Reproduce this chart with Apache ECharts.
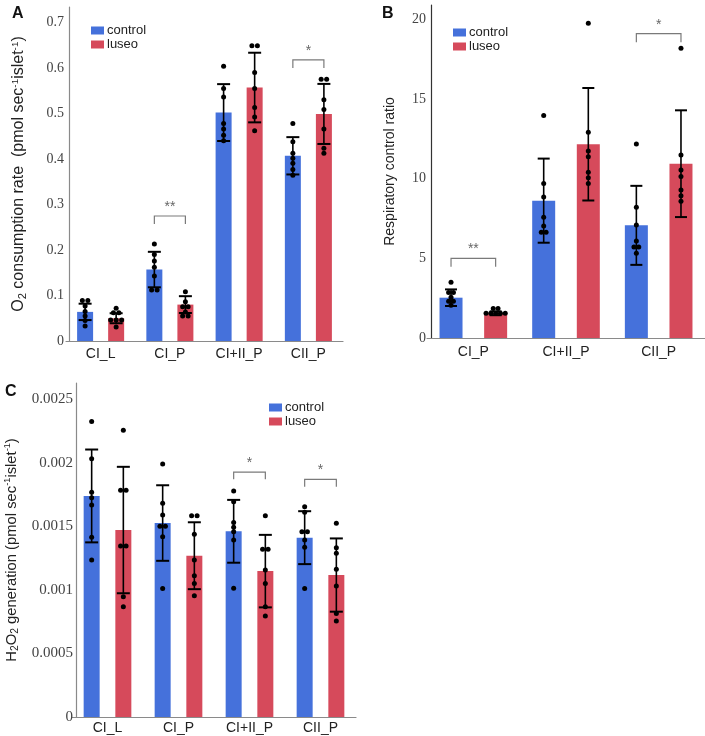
<!DOCTYPE html>
<html>
<head>
<meta charset="utf-8">
<script src="https://cdn.jsdelivr.net/npm/echarts@6/dist/echarts.min.js"></script>
<style>
  html, body { margin: 0; padding: 0; background: #fff; }
  #main { width: 705px; height: 736px; }
</style>
</head>
<body>
<div id="main"></div>
<script>
// ---- data ----
const catsA = ['CI_L', 'CI_P', 'CI+II_P', 'CII_P']
const catsB = ['CI_P', 'CI+II_P', 'CII_P']
const catsC = ['CI_L', 'CI_P', 'CI+II_P', 'CII_P']

// A: O2 consumption rate
const ctrlMeanA = [0.064, 0.157, 0.502, 0.407]
const luseoMeanA = [0.050, 0.080, 0.557, 0.499]
const ctrlSdA = [0.018, 0.039, 0.0625, 0.041]
const luseoSdA = [0.011, 0.0185, 0.0765, 0.066]
const ctrlPtsA = [
  [0.089, 0.089, 0.077, 0.065, 0.055, 0.045, 0.033],
  [0.213, 0.19, 0.176, 0.162, 0.143, 0.112, 0.112],
  [0.604, 0.555, 0.536, 0.478, 0.466, 0.452, 0.440],
  [0.478, 0.438, 0.4125, 0.4015, 0.3905, 0.377, 0.364]
]
const luseoPtsA = [
  [0.072, 0.062, 0.062, 0.046, 0.046, 0.046, 0.031],
  [0.108, 0.086, 0.075, 0.075, 0.064, 0.055, 0.055],
  [0.649, 0.649, 0.590, 0.555, 0.513, 0.492, 0.462],
  [0.575, 0.575, 0.530, 0.509, 0.466, 0.4235, 0.4125]
]
const sigCatsA = [1, 3]
const sigTopA = [0.2747, 0.6176]
const sigMarkA = ['**', '*']

// B: respiratory control ratio
const ctrlMeanB = [2.53, 8.62, 7.07]
const luseoMeanB = [1.55, 12.16, 10.94]
const ctrlSdB = [0.52, 2.64, 2.48]
const luseoSdB = [0.12, 3.53, 3.35]
const ctrlPtsB = [
  [3.5, 2.85, 2.85, 2.55, 2.3, 2.3, 2.05],
  [13.96, 9.69, 8.85, 7.58, 7.03, 6.63, 6.63],
  [12.18, 8.2, 7.09, 6.09, 5.71, 5.71, 5.32]
]
const luseoPtsB = [
  [1.85, 1.85, 1.55, 1.55, 1.55, 1.55, 1.55],
  [19.75, 12.91, 11.74, 11.38, 10.4, 10.06, 9.69],
  [18.18, 11.49, 10.55, 10.13, 9.29, 8.93, 8.58]
]
const sigCatsB = [0, 2]
const sigTopB = [5.0, 19.1]
const sigMarkB = ['**', '*']

// C: H2O2 generation
const ctrlMeanC = [0.001738, 0.001525, 0.00146, 0.00141]
const luseoMeanC = [0.00147, 0.001268, 0.001147, 0.001116]
const ctrlSdC = [0.000365, 0.000297, 0.000247, 0.000208]
const luseoSdC = [0.000497, 0.000263, 0.000285, 0.000288]
const ctrlPtsC = [
  [0.002323, 0.002031, 0.001767, 0.001724, 0.001667, 0.001413, 0.001234],
  [0.00199, 0.00168, 0.001588, 0.001499, 0.001499, 0.001417, 0.001011],
  [0.001777, 0.001693, 0.00153, 0.001491, 0.001457, 0.001391, 0.001013],
  [0.001654, 0.00161, 0.001457, 0.001457, 0.001391, 0.001334, 0.001011]
]
const luseoPtsC = [
  [0.002255, 0.001783, 0.001783, 0.001344, 0.001344, 0.000945, 0.000866],
  [0.001583, 0.001583, 0.001436, 0.001234, 0.00111, 0.00105, 0.000953],
  [0.001583, 0.001318, 0.001318, 0.001155, 0.00105, 0.000866, 0.000795],
  [0.001523, 0.001331, 0.001287, 0.001161, 0.001029, 0.000814, 0.000754]
]
const sigCatsC = [2, 3]
const sigTopC = [0.001926, 0.001868]
const sigMarkC = ['*', '*']

const BLUE = '#4571DB'
const RED = '#D64A5B'

// side-by-side slot for identical values
function slots (vals) {
  return vals.map((v, i) => {
    const same = vals.filter(w => w === v).length
    const k = vals.slice(0, i).filter(w => w === v).length
    return k - (same - 1) / 2
  })
}

function groupShift (grp, barW, gapR) {
  return (grp === 0 ? -1 : 1) * barW * (1 + gapR) / 2
}

function buildPanel (p) {
  const series = []
  const axis = { xAxisIndex: p.idx, yAxisIndex: p.idx }
  series.push(Object.assign({
    type: 'bar', name: 'control', data: p.ctrlMean, barWidth: p.barW, barGap: (p.gapR * 100) + '%',
    itemStyle: { color: BLUE }, silent: true
  }, axis))
  series.push(Object.assign({
    type: 'bar', name: 'luseo', data: p.luseoMean, barWidth: p.barW, barGap: (p.gapR * 100) + '%',
    itemStyle: { color: RED }, silent: true
  }, axis))

  // error bars
  const errData = []
  p.ctrlMean.forEach((m, i) => errData.push([i, m, p.ctrlSd[i], 0]))
  p.luseoMean.forEach((m, i) => errData.push([i, m, p.luseoSd[i], 1]))
  series.push(Object.assign({
    type: 'custom', z: 5, silent: true, data: errData,
    encode: { x: 0, y: 1 },
    renderItem (params, api) {
      const c = api.value(0)
      const m = api.value(1)
      const sd = api.value(2)
      const dx = groupShift(api.value(3), p.barW, p.gapR)
      const hi = api.coord([c, m + sd])
      const lo = api.coord([c, m - sd])
      const x = hi[0] + dx
      const half = p.cap / 2
      const st = { stroke: '#000', lineWidth: 2 }
      return {
        type: 'group',
        children: [
          { type: 'line', shape: { x1: x, y1: hi[1], x2: x, y2: lo[1] }, style: { stroke: '#000', lineWidth: 1.6 } },
          { type: 'line', shape: { x1: x - half, y1: hi[1], x2: x + half, y2: hi[1] }, style: st },
          { type: 'line', shape: { x1: x - half, y1: lo[1], x2: x + half, y2: lo[1] }, style: st }
        ]
      }
    }
  }, axis))

  // individual points
  const dotData = []
  p.ctrlPts.forEach((arr, i) => {
    const s = slots(arr)
    arr.forEach((v, k) => dotData.push([i, v, 0, s[k]]))
  })
  p.luseoPts.forEach((arr, i) => {
    const s = slots(arr)
    arr.forEach((v, k) => dotData.push([i, v, 1, s[k]]))
  })
  series.push(Object.assign({
    type: 'custom', z: 6, silent: true, data: dotData,
    encode: { x: 0, y: 1 },
    renderItem (params, api) {
      const pt = api.coord([api.value(0), api.value(1)])
      const dx = groupShift(api.value(2), p.barW, p.gapR) + api.value(3) * p.spacing
      return { type: 'circle', shape: { cx: pt[0] + dx, cy: pt[1], r: 2.5 }, style: { fill: '#000' } }
    }
  }, axis))

  // significance brackets
  const sigData = p.sigCats.map((c, i) => [c, p.sigTop[i]])
  series.push(Object.assign({
    type: 'custom', z: 4, silent: true, data: sigData,
    encode: { x: 0, y: 1 },
    renderItem (params, api) {
      const pt = api.coord([api.value(0), api.value(1)])
      const x1 = pt[0] + groupShift(0, p.barW, p.gapR)
      const x2 = pt[0] + groupShift(1, p.barW, p.gapR)
      const y = pt[1]
      return {
        type: 'group',
        children: [
          {
            type: 'polyline',
            shape: { points: [[x1, y + p.leg], [x1, y], [x2, y], [x2, y + p.leg]] },
            style: { stroke: '#7a7a7a', lineWidth: 1.2, fill: null }
          },
          {
            type: 'text',
            style: {
              text: p.sigMark[params.dataIndex], x: (x1 + x2) / 2, y: y - 2,
              align: 'center', verticalAlign: 'bottom',
              font: '14px "Liberation Sans", Arial, sans-serif', fill: '#666'
            }
          }
        ]
      }
    }
  }, axis))
  return series
}

const panelA = {
  idx: 0, ctrlMean: ctrlMeanA, luseoMean: luseoMeanA, ctrlSd: ctrlSdA, luseoSd: luseoSdA,
  ctrlPts: ctrlPtsA, luseoPts: luseoPtsA, sigCats: sigCatsA, sigTop: sigTopA, sigMark: sigMarkA,
  barW: 16, gapR: 0.94, cap: 13, spacing: 5.5, leg: 8
}
const panelB = {
  idx: 1, ctrlMean: ctrlMeanB, luseoMean: luseoMeanB, ctrlSd: ctrlSdB, luseoSd: luseoSdB,
  ctrlPts: ctrlPtsB, luseoPts: luseoPtsB, sigCats: sigCatsB, sigTop: sigTopB, sigMark: sigMarkB,
  barW: 23, gapR: 0.94, cap: 12, spacing: 4.8, leg: 8.5
}
const panelC = {
  idx: 2, ctrlMean: ctrlMeanC, luseoMean: luseoMeanC, ctrlSd: ctrlSdC, luseoSd: luseoSdC,
  ctrlPts: ctrlPtsC, luseoPts: luseoPtsC, sigCats: sigCatsC, sigTop: sigTopC, sigMark: sigMarkC,
  barW: 16, gapR: 0.98, cap: 13, spacing: 5.5, leg: 7.3
}

const SANS = '"Liberation Sans", Arial, sans-serif'
const SERIF = '"Liberation Serif", "Times New Roman", serif'

function xAxisOf (idx, cats, margin) {
  return {
    type: 'category', gridIndex: idx, data: cats,
    axisTick: { show: false },
    axisLine: { lineStyle: { color: '#8a8a8a', width: 1.2 } },
    axisLabel: { color: '#222', fontSize: 14, fontFamily: SANS, margin: margin }
  }
}

function nameStyle (size) {
  return {
    color: '#222', fontFamily: SANS, fontSize: size,
    rich: {
      sub: { fontSize: size * 0.7, fontFamily: SANS, color: '#222', verticalAlign: 'bottom', lineHeight: size + 2 },
      sup: { fontSize: size * 0.62, fontFamily: SANS, color: '#222', verticalAlign: 'top', lineHeight: size + 2 }
    }
  }
}

function yAxisOf (idx, max, step, opts) {
  return Object.assign({
    type: 'value', gridIndex: idx, min: 0, max: max, interval: step,
    splitLine: { show: false },
    axisTick: { show: false },
    axisLine: { show: true, lineStyle: { color: '#8a8a8a', width: 1.2 } },
    axisLabel: {
      color: '#444', fontFamily: SERIF, fontSize: 14, margin: 5,
      formatter (v) {
        const r = v / step
        return Math.abs(r - Math.round(r)) < 1e-6 ? String(+v.toPrecision(6)) : ''
      }
    },
    nameLocation: 'middle',
    nameTextStyle: nameStyle(14)
  }, opts)
}

const chart = echarts.init(document.getElementById('main'))

const legendCommon = {
  data: ['control', 'luseo'], orient: 'vertical', icon: 'rect',
  itemWidth: 13, itemHeight: 8, itemGap: 1, selectedMode: false,
  textStyle: { color: '#222', fontSize: 13, fontFamily: SANS, lineHeight: 13, padding: [0, 0, 0, -2] },
  padding: 0
}

const titleStyle = { fontSize: 16, fontWeight: 'bold', color: '#111', fontFamily: SANS }

const option = {
  animation: false,
  backgroundColor: '#fff',
  title: [
    { text: 'A', left: 7, top: 1, textStyle: titleStyle },
    { text: 'B', left: 377, top: 1, textStyle: titleStyle },
    { text: 'C', left: 0, top: 379, textStyle: titleStyle }
  ],
  legend: [
    Object.assign({ left: 91, top: 24 }, legendCommon),
    Object.assign({ left: 453, top: 26 }, legendCommon),
    Object.assign({ left: 269, top: 401 }, legendCommon)
  ],
  grid: [
    { left: 66, top: 7, width: 277, height: 334 },
    { left: 427, top: 5, width: 286, height: 333 },
    { left: 72, top: 383, width: 284, height: 334 }
  ],
  xAxis: [
    xAxisOf(0, catsA, 6),
    xAxisOf(1, catsB, 7),
    xAxisOf(2, catsC, 4)
  ],
  yAxis: [
    yAxisOf(0, 0.734, 0.1, {
      offset: -3,
      name: 'O{sub|2} consumption rate  (pmol sec{sup|-1}islet{sup|-1})',
      nameGap: 41,
      nameTextStyle: nameStyle(16)
    }),
    yAxisOf(1, 20.9, 5, {
      offset: -4,
      name: 'Respiratory control ratio',
      nameGap: 34,
      axisLine: { show: true, lineStyle: { color: '#333', width: 1.2 } }
    }),
    yAxisOf(2, 0.002626, 0.0005, {
      offset: -4,
      name: 'H{sub|2}O{sub|2} generation (pmol sec{sup|-1}islet{sup|-1})',
      nameGap: 56,
      nameTextStyle: nameStyle(14.8),
      axisLabel: {
        color: '#444', fontFamily: SERIF, fontSize: 15, margin: 3,
        formatter (v) {
          const r = v / 0.0005
          return Math.abs(r - Math.round(r)) < 1e-6 ? String(+v.toPrecision(6)) : ''
        }
      }
    })
  ],
  series: [].concat(buildPanel(panelA), buildPanel(panelB), buildPanel(panelC))
}

chart.setOption(option)
</script>
</body>
</html>
